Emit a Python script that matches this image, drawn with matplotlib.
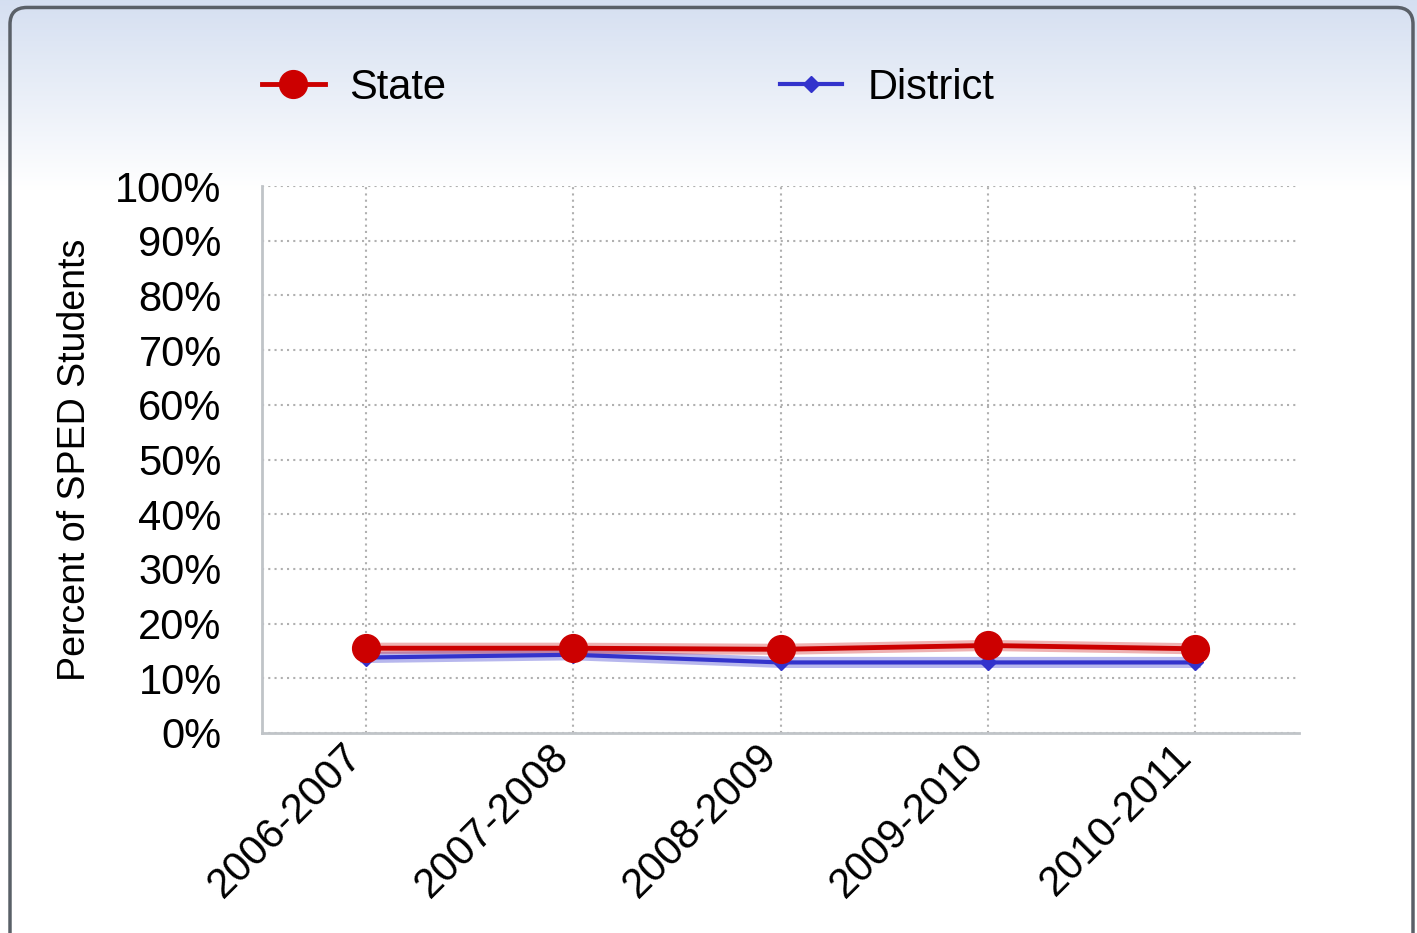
import numpy as np
import matplotlib.pyplot as plt
import matplotlib.transforms as mtransforms
from matplotlib.patches import FancyBboxPatch

plt.rcParams['font.family'] = ['Liberation Sans', 'DejaVu Sans']

years = ['2006-2007', '2007-2008', '2008-2009', '2009-2010', '2010-2011']
state = [15.5, 15.5, 15.3, 16.0, 15.4]
district = [13.8, 14.3, 12.9, 12.9, 12.9]
yticks = list(range(0, 101, 10))

fig = plt.figure(figsize=(14.17, 9.33), dpi=100)

# fond degrade + cadre arrondi
bg = fig.add_axes([0, 0, 1, 1], zorder=-10)
grad = np.ones((933, 1, 3))
top = np.array([0.835, 0.875, 0.945])
for i in range(933):
    t = min(i / 190.0, 1.0)
    grad[i, 0] = top * (1 - t) + np.array([1.0, 1.0, 1.0]) * t
bg.imshow(grad, aspect='auto', extent=[0, 1, 0, 1], origin='upper')
bg.add_patch(FancyBboxPatch((10 / 1417, -0.05), 1403 / 1417, 1.042,
                            boxstyle='round,pad=0,rounding_size=0.012',
                            transform=bg.transAxes, fill=False,
                            edgecolor='#5a6068', linewidth=2.5, mutation_aspect=1.5))
bg.set_xlim(0, 1)
bg.set_ylim(0, 1)
bg.axis('off')

ax = fig.add_axes([262 / 1417, 1 - 733 / 933, 1037 / 1417, 547 / 933])
ax.set_facecolor('white')
x = np.arange(len(years))

# halo clair sous les lignes
ax.plot(x, district, color='#3333cc', lw=8, alpha=0.35, zorder=2)
ax.plot(x, state, color='#cc0000', lw=8, alpha=0.3, zorder=2)

ax.plot(x, district, color='#3333cc', lw=3, marker='D', markersize=8,
        label='District', zorder=3)
ax.plot(x, state, color='#cc0000', lw=3.5, marker='o', markersize=20,
        label='State', zorder=4)

ax.set_xlim(-0.5, 4.5)
ax.set_ylim(0, 100)
ax.set_yticks(yticks)
ax.set_yticklabels(['%d%%' % v for v in yticks], fontsize=30)
ax.set_xticks(x)
ax.set_xticklabels(years, fontsize=30, rotation=45, ha='right', va='center',
                   rotation_mode='anchor')
ax.tick_params(axis='y', length=0, pad=29)
ax.tick_params(axis='x', length=0, pad=22)
shift = mtransforms.ScaledTranslation(-0.10, 0.13, fig.dpi_scale_trans)
for lab in ax.get_xticklabels():
    lab.set_transform(lab.get_transform() + shift)
ax.grid(True, linestyle=(0, (1, 2)), color='#b0b0b0', linewidth=1.5)
for s in ['top', 'right']:
    ax.spines[s].set_visible(False)
for s in ['left', 'bottom']:
    ax.spines[s].set_color('#c0c4c8')
    ax.spines[s].set_linewidth(2)
ax.set_ylabel('Percent of SPED Students', fontsize=27, labelpad=16)

h, l = ax.get_legend_handles_labels()
fig.legend(h[::-1], l[::-1], loc='center left',
           bbox_to_anchor=(262 / 1417, 1 - 88 / 933), ncol=2, frameon=False,
           fontsize=30, handlelength=1.5, handletextpad=0.6, columnspacing=8.0,
           borderpad=0, borderaxespad=0)

fig.savefig('out.png', dpi=100)
